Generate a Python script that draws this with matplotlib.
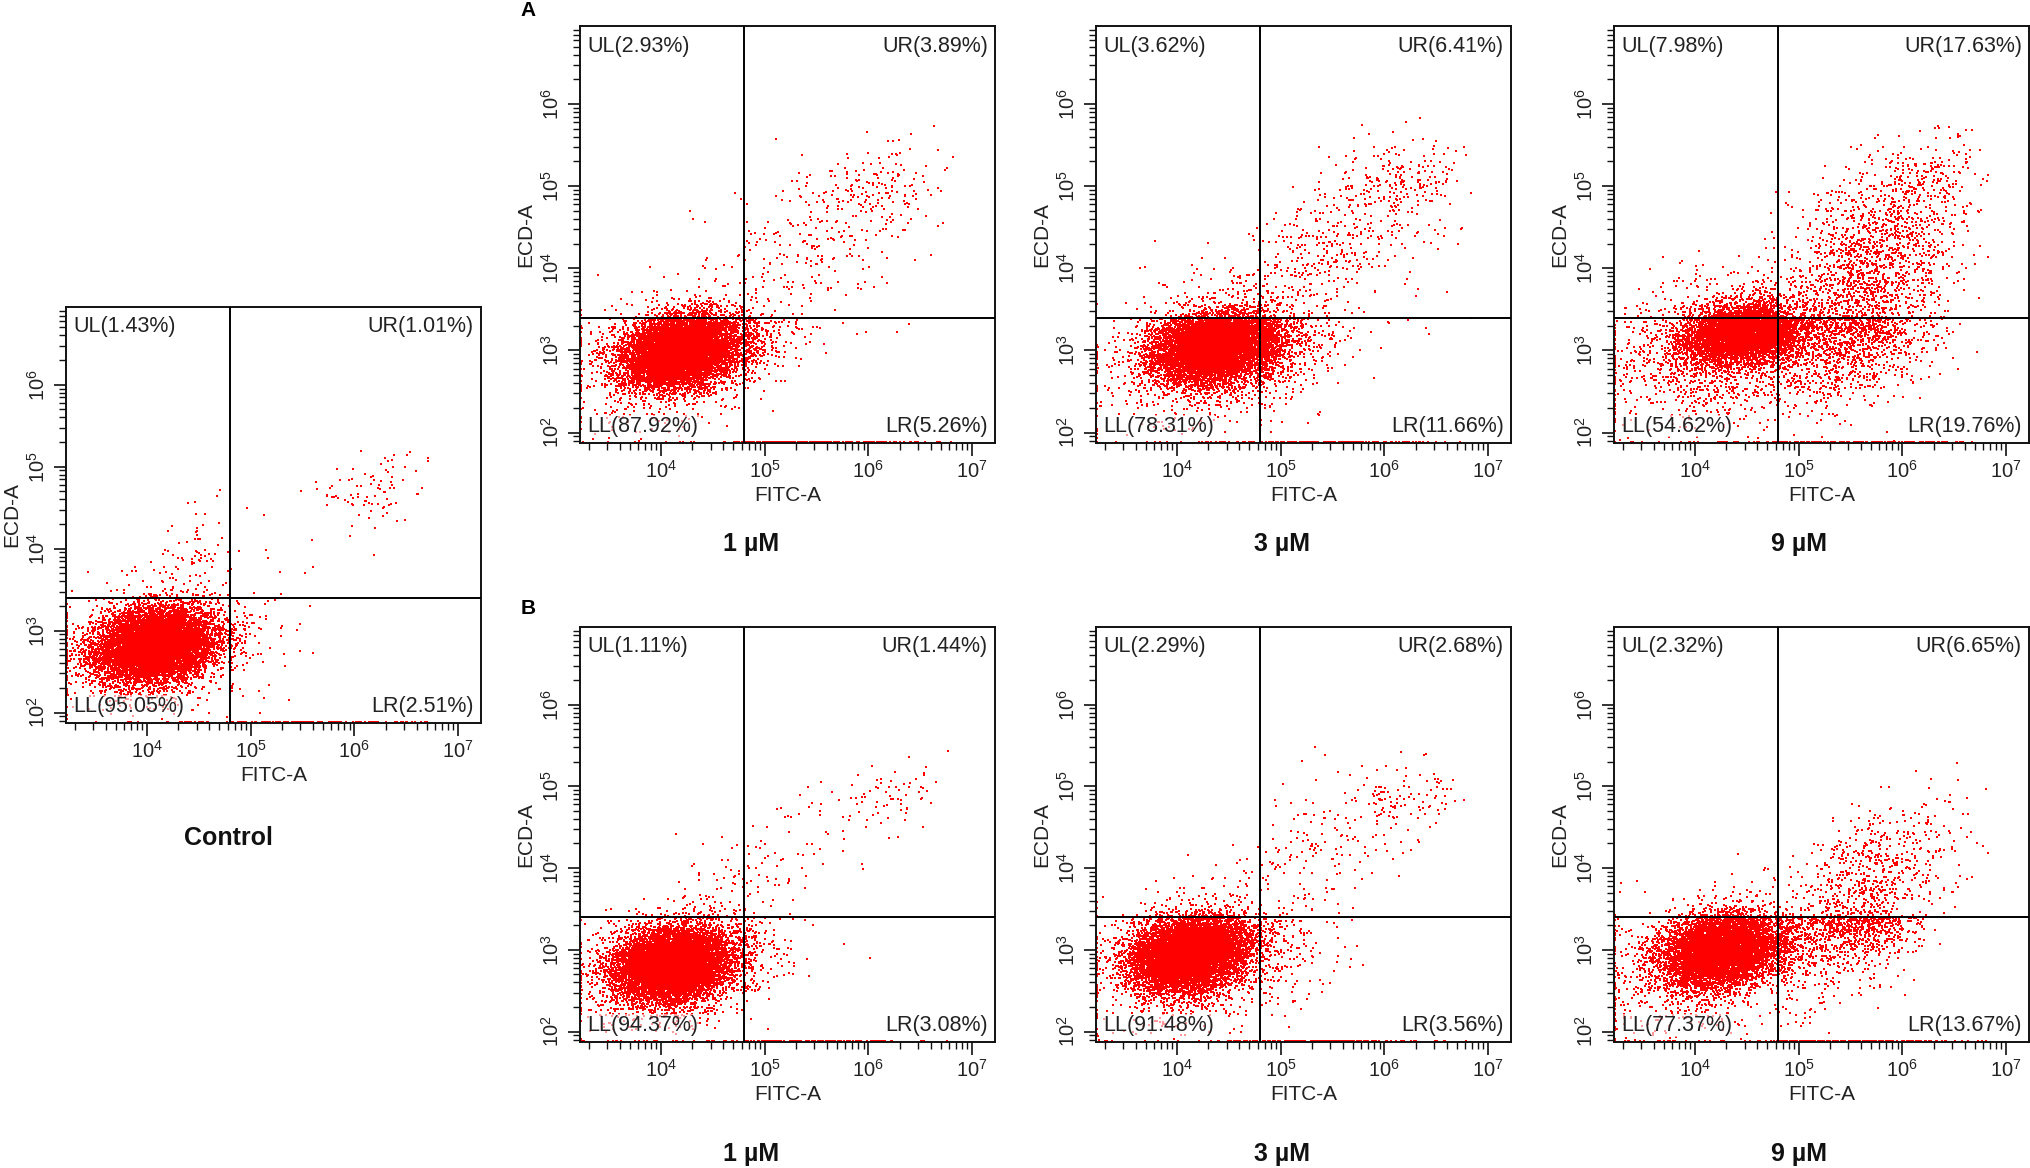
import numpy as np
import matplotlib
matplotlib.use('Agg')
import matplotlib.pyplot as plt
from matplotlib.ticker import LogLocator, NullFormatter

plt.rcParams['font.family'] = ['Liberation Sans', 'DejaVu Sans']
plt.rcParams['mathtext.fontset'] = 'custom'
plt.rcParams['mathtext.rm'] = 'Liberation Sans'
plt.rcParams['mathtext.it'] = 'Liberation Sans:italic'
plt.rcParams['mathtext.bf'] = 'Liberation Sans:bold'

# quadrant gates and axis range, in log10 units
GATE_X = 4.80
GATE_Y = 3.40
XLIM_LOG = (3.218, 7.222)
YLIM_LOG = (1.873, 6.949)
N_EVENTS = 10000

# quadrant percentages as printed on each plot: UL, UR, LL, LR
control_pct = [1.43, 1.01, 95.05, 2.51]
a1_pct = [2.93, 3.89, 87.92, 5.26]
a2_pct = [3.62, 6.41, 78.31, 11.66]
a3_pct = [7.98, 17.63, 54.62, 19.76]
b1_pct = [1.11, 1.44, 94.37, 3.08]
b2_pct = [2.29, 2.68, 91.48, 3.56]
b3_pct = [2.32, 6.65, 77.37, 13.67]

# cell populations estimated from each plot:
# weight, log10 centre FITC, log10 centre ECD, spread x, spread y, correlation
control_pops = [(0.88, 4.08, 2.82, 0.28, 0.23, 0.15),
                (0.07, 4.05, 2.80, 0.50, 0.40, 0.20),
                (0.012, 4.45, 3.90, 0.25, 0.40, 0.50),
                (0.022, 6.10, 4.70, 0.28, 0.22, 0.20),
                (0.002, 5.40, 4.20, 0.50, 0.45, 0.30),
                (0.010, 5.30, 1.00, 0.60, 0.30, 0.00)]
a1_pops = [(0.84, 4.20, 3.00, 0.28, 0.23, 0.20),
           (0.07, 4.15, 2.95, 0.50, 0.45, 0.30),
           (0.04, 5.50, 4.30, 0.55, 0.60, 0.50),
           (0.015, 6.10, 5.00, 0.28, 0.25, 0.20),
           (0.010, 5.30, 1.00, 0.60, 0.30, 0.00)]
a2_pops = [(0.74, 4.35, 3.05, 0.29, 0.23, 0.20),
           (0.11, 4.40, 3.00, 0.55, 0.45, 0.30),
           (0.07, 5.55, 4.30, 0.55, 0.60, 0.55),
           (0.025, 6.15, 5.05, 0.28, 0.22, 0.20),
           (0.010, 5.30, 1.00, 0.60, 0.30, 0.00)]
a3_pops = [(0.45, 4.45, 3.20, 0.27, 0.18, 0.20),
           (0.15, 4.30, 3.05, 0.60, 0.45, 0.30),
           (0.24, 5.65, 3.75, 0.40, 0.60, 0.30),
           (0.09, 5.85, 4.50, 0.45, 0.55, 0.45),
           (0.015, 6.20, 5.10, 0.22, 0.18, 0.20),
           (0.010, 5.40, 1.00, 0.70, 0.30, 0.00)]
b1_pops = [(0.88, 4.12, 2.82, 0.28, 0.23, 0.15),
           (0.07, 4.15, 2.80, 0.50, 0.42, 0.25),
           (0.015, 4.75, 3.90, 0.32, 0.40, 0.50),
           (0.014, 6.15, 4.85, 0.30, 0.22, 0.20),
           (0.003, 5.40, 4.20, 0.50, 0.45, 0.30),
           (0.010, 5.30, 1.00, 0.60, 0.30, 0.00)]
b2_pops = [(0.87, 4.12, 2.95, 0.28, 0.23, 0.20),
           (0.08, 4.25, 2.90, 0.55, 0.45, 0.30),
           (0.02, 5.40, 4.30, 0.50, 0.50, 0.55),
           (0.012, 6.20, 4.85, 0.30, 0.22, 0.20),
           (0.010, 5.30, 1.00, 0.60, 0.30, 0.00)]
b3_pops = [(0.70, 4.25, 3.00, 0.28, 0.22, 0.20),
           (0.11, 4.20, 2.90, 0.55, 0.45, 0.30),
           (0.15, 5.65, 3.70, 0.32, 0.42, 0.25),
           (0.025, 6.00, 4.40, 0.40, 0.35, 0.30),
           (0.010, 5.40, 1.00, 0.70, 0.30, 0.00)]

panel_titles = ['Control', '1 µM', '3 µM', '9 µM', '1 µM', '3 µM', '9 µM']
panel_pct = [control_pct, a1_pct, a2_pct, a3_pct, b1_pct, b2_pct, b3_pct]
panel_pops = [control_pops, a1_pops, a2_pops, a3_pops, b1_pops, b2_pops, b3_pops]

# axes boxes in pixels: left, top, width, height ; title centre x, y
W, H = 2031, 1168
boxes = [(66, 307, 415, 416, 228, 838),
         (580, 26, 415, 417, 751, 544), (1096, 26, 415, 417, 1282, 544),
         (1614, 26, 415, 417, 1799, 544),
         (580, 627, 415, 415, 751, 1154), (1096, 627, 415, 415, 1282, 1154),
         (1614, 627, 415, 415, 1799, 1154)]


def make_events(pops, pct, seed):
    # draw a pool from the populations, then keep as many events per quadrant
    # as the printed percentages say
    rng = np.random.default_rng(seed)
    M = 150000
    w = np.array([p[0] for p in pops])
    counts = np.round(w / w.sum() * M).astype(int)
    xs, ys = [], []
    for (wt, cx, cy, sx, sy, r), n in zip(pops, counts):
        cov = [[sx * sx, r * sx * sy], [r * sx * sy, sy * sy]]
        d = rng.multivariate_normal([cx, cy], cov, size=n)
        xs.append(d[:, 0])
        ys.append(d[:, 1])
    x = np.concatenate(xs)
    y = np.concatenate(ys)
    order = rng.permutation(len(x))
    x, y = x[order], y[order]
    # piled events on the axis floor / left edge
    x = np.clip(x, XLIM_LOG[0] + 0.01, None)
    y = np.clip(y, YLIM_LOG[0] + 0.012, None)
    keep = (x < 6.85) & (y < 5.9)
    x, y = x[keep], y[keep]
    right = x >= GATE_X
    upper = y >= GATE_Y
    masks = [upper & ~right, upper & right, ~upper & ~right, ~upper & right]
    out_x, out_y = [], []
    for m, p in zip(masks, pct):
        n = int(round(p / 100 * N_EVENTS))
        idx = np.flatnonzero(m)[:n]
        out_x.append(x[idx])
        out_y.append(y[idx])
    return 10 ** np.concatenate(out_x), 10 ** np.concatenate(out_y)


fig = plt.figure(figsize=(W / 100, H / 100), dpi=100)

for i, (box, title, pct, pops) in enumerate(zip(boxes, panel_titles, panel_pct, panel_pops)):
    left, top, bw, bh, tx, ty = box
    ax = fig.add_axes([left / W, 1 - (top + bh) / H, bw / W, bh / H])
    fx, fy = make_events(pops, pct, seed=11 + i)
    ax.plot(fx, fy, 's', color='#ff0000', ms=1.7, mew=0, antialiased=False, zorder=1)

    ax.set_xscale('log')
    ax.set_yscale('log')
    ax.set_xlim(10 ** XLIM_LOG[0], 10 ** XLIM_LOG[1])
    ax.set_ylim(10 ** YLIM_LOG[0], 10 ** YLIM_LOG[1])
    ax.axvline(10 ** GATE_X, color='black', lw=1.4, zorder=3)
    ax.axhline(10 ** GATE_Y, color='black', lw=1.4, zorder=3)

    for s in ax.spines.values():
        s.set_linewidth(1.4)
        s.set_color('#111111')
    ax.xaxis.set_major_locator(LogLocator(base=10, numticks=10))
    ax.yaxis.set_major_locator(LogLocator(base=10, numticks=10))
    ax.xaxis.set_minor_locator(LogLocator(base=10, subs=np.arange(2, 10), numticks=20))
    ax.yaxis.set_minor_locator(LogLocator(base=10, subs=np.arange(2, 10), numticks=20))
    ax.xaxis.set_minor_formatter(NullFormatter())
    ax.yaxis.set_minor_formatter(NullFormatter())
    ax.tick_params(which='major', direction='out', length=9, width=1.2, colors='#111111',
                   labelsize=14.5, labelcolor='#222222')
    ax.tick_params(which='minor', direction='out', length=5, width=1.0, colors='#111111')
    ax.tick_params(axis='y', labelrotation=90)
    for lab in ax.get_yticklabels():
        lab.set_verticalalignment('center')
    ax.set_xlabel('FITC-A', fontsize=15, color='#222222', labelpad=3)
    ax.set_ylabel('ECD-A', fontsize=15, color='#222222', labelpad=4)

    lbl = dict(fontsize=15.5, color='#222222', transform=ax.transAxes, zorder=4,
               bbox=dict(facecolor='white', alpha=0.6, edgecolor='none', pad=0.5))
    ax.text(0.017, 0.952, 'UL(%.2f%%)' % pct[0], ha='left', va='center', **lbl)
    ax.text(0.983, 0.952, 'UR(%.2f%%)' % pct[1], ha='right', va='center', **lbl)
    ax.text(0.017, 0.04, 'LL(%.2f%%)' % pct[2], ha='left', va='center', **lbl)
    ax.text(0.983, 0.04, 'LR(%.2f%%)' % pct[3], ha='right', va='center', **lbl)

    fig.text(tx / W, 1 - ty / H, title, ha='center', va='center',
             fontsize=18, fontweight='bold', color='#111111')

fig.text(528 / W, 1 - 10 / H, 'A', ha='center', va='center', fontsize=15, fontweight='bold')
fig.text(528 / W, 1 - 608 / H, 'B', ha='center', va='center', fontsize=15, fontweight='bold')

fig.savefig('out.png', dpi=100, facecolor='white')
